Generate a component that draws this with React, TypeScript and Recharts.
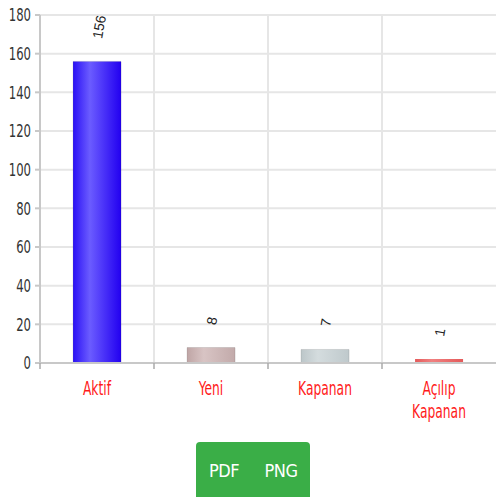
import React from 'react';
import { BarChart, Bar, XAxis, YAxis, CartesianGrid, LabelList, Cell } from 'recharts';

const categories = ['Aktif', 'Yeni', 'Kapanan', 'Açılıp Kapanan'];
const counts = [156, 8, 7, 1];
const barColors = [
  ['#2a10f5', '#6b5cff', '#2200f0'],
  ['#bfa5a5', '#d8c4c4', '#c2aaaa'],
  ['#bcc6c9', '#d4dcde', '#bfc9cc'],
  ['#e45a5a', '#f08080', '#e45a5a'],
];
const yTicks = [0, 20, 40, 60, 80, 100, 120, 140, 160, 180];

const data = categories.map((name, i) => ({ name, value: counts[i] }));

const FONT = "'DejaVu Sans Condensed', 'DejaVu Sans', sans-serif";

const XTick = (props: any) => {
  const { x, y, payload } = props;
  const band = 456 / categories.length;
  const words: string[] = payload.value.split(' ');
  return (
    <g>
      <line x1={x - band / 2} x2={x - band / 2} y1={y - 8} y2={y - 2} stroke="#aaa" strokeWidth={1.5} />
      {words.map((w, i) => (
        <text key={i} transform={`translate(${x} ${y + 24 + i * 23}) scale(0.72 1)`} textAnchor="middle"
          fill="#ff1a1a" fontSize={19} fontFamily={FONT}>
          {w}
        </text>
      ))}
    </g>
  );
};

const YTick = (props: any) => {
  const { x, y, payload } = props;
  return (
    <text transform={`translate(${x} ${y}) scale(0.72 1)`} textAnchor="end" dominantBaseline="central"
      fill="#333" fontSize={18} fontFamily={FONT}>
      {payload.value}
    </text>
  );
};

const ValueLabel = (props: any) => {
  const { x, y, width, value } = props;
  const cx = x + width / 2;
  const cy = y - 23;
  return (
    <text x={cx} y={cy} transform={`rotate(-80 ${cx} ${cy})`} textAnchor="start" dominantBaseline="central"
      fill="#222" fontSize={14} fontFamily="'Liberation Sans', sans-serif">
      {value}
    </text>
  );
};

export default function App() {
  return (
    <div style={{ position: 'absolute', left: 0, top: 0, width: 496, height: 497, background: '#fff', overflow: 'hidden' }}>
      <BarChart width={496} height={440} data={data} margin={{ top: 15, right: 0, left: 0, bottom: 0 }} barCategoryGap="29%">
        <defs>
          {barColors.map((c, i) => (
            <linearGradient key={i} id={`bar-${i}`} x1="0" y1="0" x2="1" y2="0">
              <stop offset="0%" stopColor={c[0]} />
              <stop offset="35%" stopColor={c[1]} />
              <stop offset="100%" stopColor={c[2]} />
            </linearGradient>
          ))}
        </defs>
        <CartesianGrid stroke="#e6e6e6" strokeWidth={2}
          verticalCoordinatesGenerator={({ offset }: any) =>
            categories.map((_, i) => offset.left + (i * offset.width) / categories.length)}
        />
        <XAxis dataKey="name" interval={0} height={77} tickLine={false} tick={<XTick />}
          axisLine={{ stroke: '#c8c8c8', strokeWidth: 2 }} />
        <YAxis domain={[0, 180]} ticks={yTicks} width={40} interval={0} tickSize={5} tickMargin={4}
          axisLine={{ stroke: '#c8c8c8', strokeWidth: 2 }} tickLine={{ stroke: '#c8c8c8', strokeWidth: 2 }}
          tick={<YTick />} />
        <Bar dataKey="value" isAnimationActive={false} minPointSize={4}>
          {data.map((_, i) => (
            <Cell key={i} fill={`url(#bar-${i})`} stroke={i === 3 ? 'none' : '#0000001c'} />
          ))}
          <LabelList dataKey="value" content={<ValueLabel />} />
        </Bar>
      </BarChart>
      <div style={{ position: 'absolute', left: 196, top: 442, display: 'flex', fontFamily: FONT, fontSize: 18, color: '#fff' }}>
        <div style={{ width: 56, height: 60, background: '#3aae47', borderRadius: '4px 0 0 0', textAlign: 'center', paddingTop: 18, boxSizing: 'border-box', letterSpacing: -0.5 }}>PDF</div>
        <div style={{ width: 58, height: 60, background: '#3aae47', borderRadius: '0 4px 0 0', textAlign: 'center', paddingTop: 18, boxSizing: 'border-box', letterSpacing: -0.5 }}>PNG</div>
      </div>
    </div>
  );
}
